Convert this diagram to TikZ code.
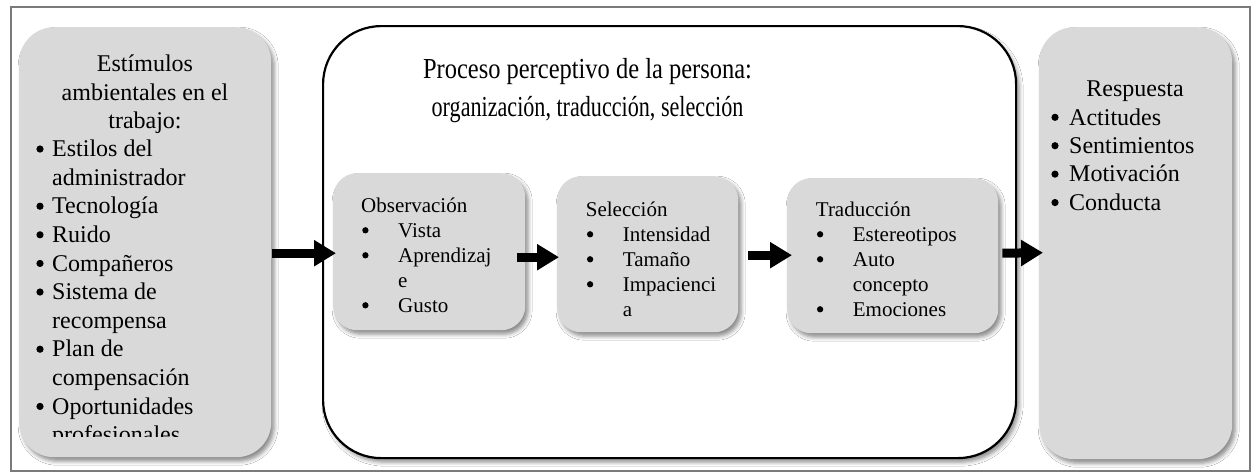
\documentclass[tikz,border=0pt]{standalone}
\usepackage{fontspec}
\setmainfont{Liberation Serif}
\usetikzlibrary{arrows.meta,shadows.blur,calc}
\definecolor{boxgray}{HTML}{D9D9D9}
\definecolor{framegray}{HTML}{7A7A7A}
\newcommand\bul{\tikz[baseline=-0.32em]\fill[black] (0,0) circle[radius=0.15em];}
\newcommand\bA[1]{\makebox[17pt][l]{\hspace*{0.05em}\bul}#1}
\newcommand\cA[1]{\hspace*{17pt}#1}
\newcommand\bB[1]{\makebox[37pt][l]{\hspace*{0.05em}\bul}#1}
\newcommand\cB[1]{\hspace*{37pt}#1}
\newcommand\bC[1]{\makebox[19pt][l]{\hspace*{0.05em}\bul}#1}
\begin{document}
\begin{tikzpicture}[x=1pt,y=-1pt,
  shad/.style={blur shadow={shadow xshift=3pt,shadow yshift=-4pt,shadow blur radius=4pt,shadow opacity=45}},
  graybox/.style={shad,fill=boxgray,draw=none,inner sep=0pt,anchor=north west},
  bigbox/.style={shad,fill=white,draw=black,line width=2.2pt,inner sep=0pt,anchor=north west,rounded corners=58pt},
  txt/.style={inner sep=0pt,anchor=base west},
  bigfont/.style={font=\fontsize{24}{28.4}\selectfont},
  arr/.style={line width=9pt,-{Triangle[length=22pt,width=25pt]}}]
\useasboundingbox (0,0) rectangle (1256,475);
\fill[white] (0,0) rectangle (1256,475);
\node[draw=framegray,line width=1.5pt,inner sep=0pt,minimum width=1239pt,minimum height=464pt,anchor=north west] (frame) at (10,6) {};
% left box
\node[graybox,rounded corners=35pt,minimum width=252pt,minimum height=430pt] (lbox) at (19,27) {};
\node[inner sep=0pt,anchor=base,bigfont] (lhead) at (145,71.7)
  {\begin{tabular}[t]{@{}c@{}}Estímulos\\ ambientales en el\\ trabajo:\end{tabular}};
\begin{scope}
\clip (19,27) rectangle (271,436);
\node[txt] (llist) at (35,156.7) {\begin{minipage}[t]{230pt}\fontsize{24}{28.6}\selectfont\parindent=0pt
\bA{Estilos del}\\
\cA{administrador}\\
\bA{Tecnología}\\
\bA{Ruido}\\
\bA{Compañeros}\\
\bA{Sistema de}\\
\cA{recompensa}\\
\bA{Plan de}\\
\cA{compensación}\\
\bA{Oportunidades}\\
\cA{profesionales}
\end{minipage}};
\end{scope}
% big box
\node[bigbox,minimum width=693pt,minimum height=432pt] (big) at (322,25) {};
\node[inner sep=0pt,anchor=base,font=\fontsize{29}{38.5}\selectfont] (title) at (587.5,78)
  {\begin{tabular}[t]{@{}c@{}}\scalebox{0.844}[1]{Proceso perceptivo de la persona:}\\ \scalebox{0.763}[1]{organización, traducción, selección}\end{tabular}};
% inner boxes
\node[graybox,rounded corners=24pt,minimum width=192pt,minimum height=157pt] (obs) at (333,173) {};
\node[graybox,rounded corners=24pt,minimum width=181pt,minimum height=156pt] (sel) at (557,176) {};
\node[graybox,rounded corners=24pt,minimum width=211pt,minimum height=155pt] (trad) at (787,178) {};
\node[txt] (obstxt) at (361,212) {\begin{minipage}[t]{160pt}\fontsize{21}{25}\selectfont\parindent=0pt
Observación\\
\bB{Vista}\\
\bB{Aprendizaj}\\
\cB{e}\\
\bB{Gusto}
\end{minipage}};
\node[txt] (seltxt) at (585.7,216) {\begin{minipage}[t]{150pt}\fontsize{21}{25}\selectfont\parindent=0pt
Selección\\
\bB{Intensidad}\\
\bB{Tamaño}\\
\bB{Impacienci}\\
\cB{a}
\end{minipage}};
\node[txt] (tradtxt) at (815.7,216) {\begin{minipage}[t]{180pt}\fontsize{21}{25}\selectfont\parindent=0pt
Traducción\\
\bB{Estereotipos}\\
\bB{Auto}\\
\cB{concepto}\\
\bB{Emociones}
\end{minipage}};
% right box
\node[graybox,rounded corners=35pt,minimum width=193pt,minimum height=432pt] (rbox) at (1039,27) {};
\node[inner sep=0pt,anchor=base,bigfont] (rhead) at (1135,96.7) {Respuesta};
\node[txt] (rlist) at (1050,125) {\begin{minipage}[t]{180pt}\fontsize{24}{28.4}\selectfont\parindent=0pt
\bC{Actitudes}\\
\bC{Sentimientos}\\
\bC{Motivación}\\
\bC{Conducta}
\end{minipage}};
% arrows
\draw[arr] ($(lbox.east)+(1,11)$) -- ($(obs.west)+(3,1.5)$);
\draw[arr] ($(obs.east)+(-8,5.5)$) -- ($(sel.west)+(2,3)$);
\draw[arr] ($(sel.east)+(10,1)$) -- ($(trad.west)+(5,-0.5)$);
\draw[arr] ($(trad.east)+(4,-2.5)$) -- ($(rbox.west)+(4,9.5)$);
\end{tikzpicture}
\end{document}
